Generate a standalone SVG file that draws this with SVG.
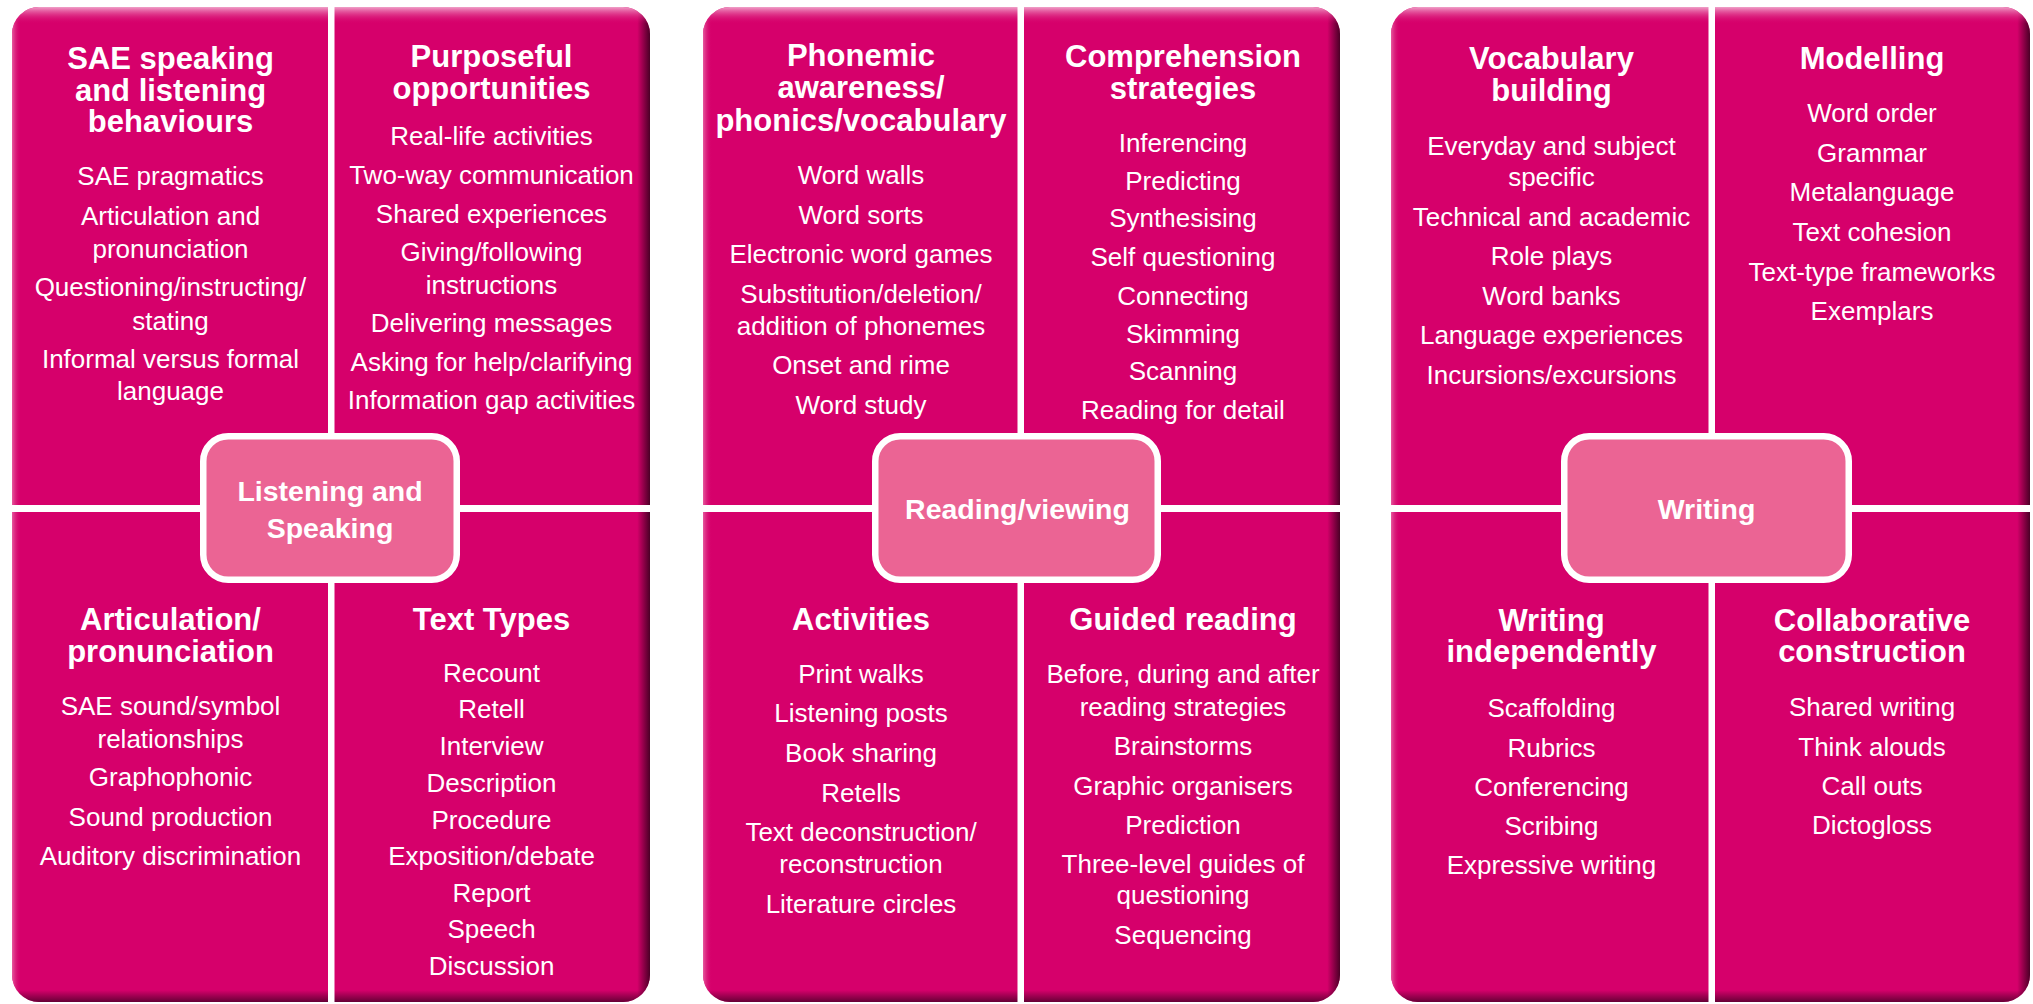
<svg xmlns="http://www.w3.org/2000/svg" width="2033" height="1004" viewBox="0 0 2033 1004">
<defs>
<linearGradient id="gv" x1="0" y1="0" x2="0" y2="1">
<stop offset="0" stop-color="#F0A0C8" stop-opacity="1"/>
<stop offset="0.017" stop-color="#D6006B" stop-opacity="0"/>
<stop offset="0.988" stop-color="#5A0030" stop-opacity="0"/>
<stop offset="1" stop-color="#5A0030" stop-opacity="0.9"/>
</linearGradient>
<linearGradient id="gh" x1="0" y1="0" x2="1" y2="0">
<stop offset="0" stop-color="#E65C9F" stop-opacity="1"/>
<stop offset="0.014" stop-color="#D6006B" stop-opacity="0"/>
<stop offset="0.98" stop-color="#4A0026" stop-opacity="0"/>
<stop offset="1" stop-color="#4A0026" stop-opacity="1"/>
</linearGradient>
<style>
.base{fill:#D6006B}
.shv{fill:url(#gv)}
.shh{fill:url(#gh)}
.div{fill:#FFFFFF}
.hub{fill:#EB6494;stroke:#FFFFFF;stroke-width:6.5}
text{font-family:"Liberation Sans",Arial,Helvetica,sans-serif;fill:#FFFFFF;text-anchor:middle}
.t{font-size:31px;font-weight:bold}
.i{font-size:26px}
.c{font-size:28.5px;font-weight:bold}
</style>
</defs>
<rect width="2033" height="1004" fill="#FFFFFF"/>

<!-- Panel 1 -->
<g id="panel-listening-speaking">
<rect class="base" x="12" y="7" width="638" height="995" rx="27"/>
<rect class="shh" x="12" y="7" width="638" height="995" rx="27"/>
<rect class="shv" x="12" y="7" width="638" height="995" rx="27"/>
<rect class="div" x="328" y="0" width="6.5" height="1004"/>
<rect class="div" x="0" y="505" width="700" height="7"/>
</g>
<g id="q-sae">
<text class="t" x="170.5" y="68.5">SAE speaking</text>
<text class="t" x="170.5" y="100.5">and listening</text>
<text class="t" x="170.5" y="132">behaviours</text>
<text class="i" x="170.5" y="185">SAE pragmatics</text>
<text class="i" x="170.5" y="225">Articulation and</text>
<text class="i" x="170.5" y="257.5">pronunciation</text>
<text class="i" x="170.5" y="296">Questioning/instructing/</text>
<text class="i" x="170.5" y="329.5">stating</text>
<text class="i" x="170.5" y="368">Informal versus formal</text>
<text class="i" x="170.5" y="400">language</text>
</g>
<g id="q-purposeful">
<text class="t" x="491.5" y="67">Purposeful</text>
<text class="t" x="491.5" y="99">opportunities</text>
<text class="i" x="491.5" y="145">Real-life activities</text>
<text class="i" x="491.5" y="184">Two-way communication</text>
<text class="i" x="491.5" y="222.5">Shared experiences</text>
<text class="i" x="491.5" y="261">Giving/following</text>
<text class="i" x="491.5" y="293.5">instructions</text>
<text class="i" x="491.5" y="332">Delivering messages</text>
<text class="i" x="491.5" y="370.5">Asking for help/clarifying</text>
<text class="i" x="491.5" y="409">Information gap activities</text>
</g>
<g id="q-articulation">
<text class="t" x="170.5" y="630">Articulation/</text>
<text class="t" x="170.5" y="662">pronunciation</text>
<text class="i" x="170.5" y="715">SAE sound/symbol</text>
<text class="i" x="170.5" y="747.5">relationships</text>
<text class="i" x="170.5" y="786">Graphophonic</text>
<text class="i" x="170.5" y="826">Sound production</text>
<text class="i" x="170.5" y="865">Auditory discrimination</text>
</g>
<g id="q-texttypes">
<text class="t" x="491.5" y="630">Text Types</text>
<text class="i" x="491.5" y="681.5">Recount</text>
<text class="i" x="491.5" y="718">Retell</text>
<text class="i" x="491.5" y="755">Interview</text>
<text class="i" x="491.5" y="792">Description</text>
<text class="i" x="491.5" y="828.5">Procedure</text>
<text class="i" x="491.5" y="865">Exposition/debate</text>
<text class="i" x="491.5" y="901.5">Report</text>
<text class="i" x="491.5" y="938">Speech</text>
<text class="i" x="491.5" y="975">Discussion</text>
</g>
<g id="hub-listening-speaking">
<rect class="hub" x="203.25" y="436.25" width="253.5" height="143.5" rx="25"/>
<text class="c" x="330" y="501">Listening and</text>
<text class="c" x="330" y="537.5">Speaking</text>
</g>

<!-- Panel 2 -->
<g id="panel-reading-viewing">
<rect class="base" x="703" y="7" width="637" height="995" rx="27"/>
<rect class="shh" x="703" y="7" width="637" height="995" rx="27"/>
<rect class="shv" x="703" y="7" width="637" height="995" rx="27"/>
<rect class="div" x="1017.5" y="0" width="6.5" height="1004"/>
<rect class="div" x="690" y="505" width="665" height="7"/>
</g>
<g id="q-phonemic">
<text class="t" x="861" y="66">Phonemic</text>
<text class="t" x="861" y="98">awareness/</text>
<text class="t" x="861" y="130.5">phonics/vocabulary</text>
<text class="i" x="861" y="183.5">Word walls</text>
<text class="i" x="861" y="223.5">Word sorts</text>
<text class="i" x="861" y="262.5">Electronic word games</text>
<text class="i" x="861" y="303">Substitution/deletion/</text>
<text class="i" x="861" y="335">addition of phonemes</text>
<text class="i" x="861" y="374">Onset and rime</text>
<text class="i" x="861" y="414">Word study</text>
</g>
<g id="q-comprehension">
<text class="t" x="1183" y="67">Comprehension</text>
<text class="t" x="1183" y="99">strategies</text>
<text class="i" x="1183" y="152">Inferencing</text>
<text class="i" x="1183" y="190">Predicting</text>
<text class="i" x="1183" y="227">Synthesising</text>
<text class="i" x="1183" y="265.5">Self questioning</text>
<text class="i" x="1183" y="305">Connecting</text>
<text class="i" x="1183" y="342.5">Skimming</text>
<text class="i" x="1183" y="380">Scanning</text>
<text class="i" x="1183" y="418.5">Reading for detail</text>
</g>
<g id="q-activities">
<text class="t" x="861" y="630">Activities</text>
<text class="i" x="861" y="683">Print walks</text>
<text class="i" x="861" y="722">Listening posts</text>
<text class="i" x="861" y="762">Book sharing</text>
<text class="i" x="861" y="801.5">Retells</text>
<text class="i" x="861" y="840.5">Text deconstruction/</text>
<text class="i" x="861" y="873">reconstruction</text>
<text class="i" x="861" y="912.5">Literature circles</text>
</g>
<g id="q-guided">
<text class="t" x="1183" y="630">Guided reading</text>
<text class="i" x="1183" y="683">Before, during and after</text>
<text class="i" x="1183" y="715.5">reading strategies</text>
<text class="i" x="1183" y="754.5">Brainstorms</text>
<text class="i" x="1183" y="794.5">Graphic organisers</text>
<text class="i" x="1183" y="833.5">Prediction</text>
<text class="i" x="1183" y="872.5">Three-level guides of</text>
<text class="i" x="1183" y="904">questioning</text>
<text class="i" x="1183" y="944">Sequencing</text>
</g>
<g id="hub-reading-viewing">
<rect class="hub" x="875.25" y="436.25" width="282.5" height="143.5" rx="25"/>
<text class="c" x="1017.5" y="518.5">Reading/viewing</text>
</g>

<!-- Panel 3 -->
<g id="panel-writing">
<rect class="base" x="1391" y="7" width="639" height="995" rx="27"/>
<rect class="shh" x="1391" y="7" width="639" height="995" rx="27"/>
<rect class="shv" x="1391" y="7" width="639" height="995" rx="27"/>
<rect class="div" x="1708.5" y="0" width="6.5" height="1004"/>
<rect class="div" x="1380" y="505" width="653" height="7"/>
</g>
<g id="q-vocabulary">
<text class="t" x="1551.5" y="69">Vocabulary</text>
<text class="t" x="1551.5" y="101">building</text>
<text class="i" x="1551.5" y="154.5">Everyday and subject</text>
<text class="i" x="1551.5" y="186">specific</text>
<text class="i" x="1551.5" y="225.5">Technical and academic</text>
<text class="i" x="1551.5" y="265">Role plays</text>
<text class="i" x="1551.5" y="304.5">Word banks</text>
<text class="i" x="1551.5" y="344">Language experiences</text>
<text class="i" x="1551.5" y="383.5">Incursions/excursions</text>
</g>
<g id="q-modelling">
<text class="t" x="1872" y="69">Modelling</text>
<text class="i" x="1872" y="122">Word order</text>
<text class="i" x="1872" y="162">Grammar</text>
<text class="i" x="1872" y="201">Metalanguage</text>
<text class="i" x="1872" y="240.5">Text cohesion</text>
<text class="i" x="1872" y="281">Text-type frameworks</text>
<text class="i" x="1872" y="320">Exemplars</text>
</g>
<g id="q-independent">
<text class="t" x="1551.5" y="630.5">Writing</text>
<text class="t" x="1551.5" y="662">independently</text>
<text class="i" x="1551.5" y="716.5">Scaffolding</text>
<text class="i" x="1551.5" y="757">Rubrics</text>
<text class="i" x="1551.5" y="796">Conferencing</text>
<text class="i" x="1551.5" y="835">Scribing</text>
<text class="i" x="1551.5" y="874">Expressive writing</text>
</g>
<g id="q-collaborative">
<text class="t" x="1872" y="630.5">Collaborative</text>
<text class="t" x="1872" y="662">construction</text>
<text class="i" x="1872" y="715.5">Shared writing</text>
<text class="i" x="1872" y="755.5">Think alouds</text>
<text class="i" x="1872" y="795">Call outs</text>
<text class="i" x="1872" y="834">Dictogloss</text>
</g>
<g id="hub-writing">
<rect class="hub" x="1564.25" y="436.25" width="284.5" height="143.5" rx="25"/>
<text class="c" x="1706.5" y="518.5">Writing</text>
</g>

<g id="connectors"/>
</svg>
